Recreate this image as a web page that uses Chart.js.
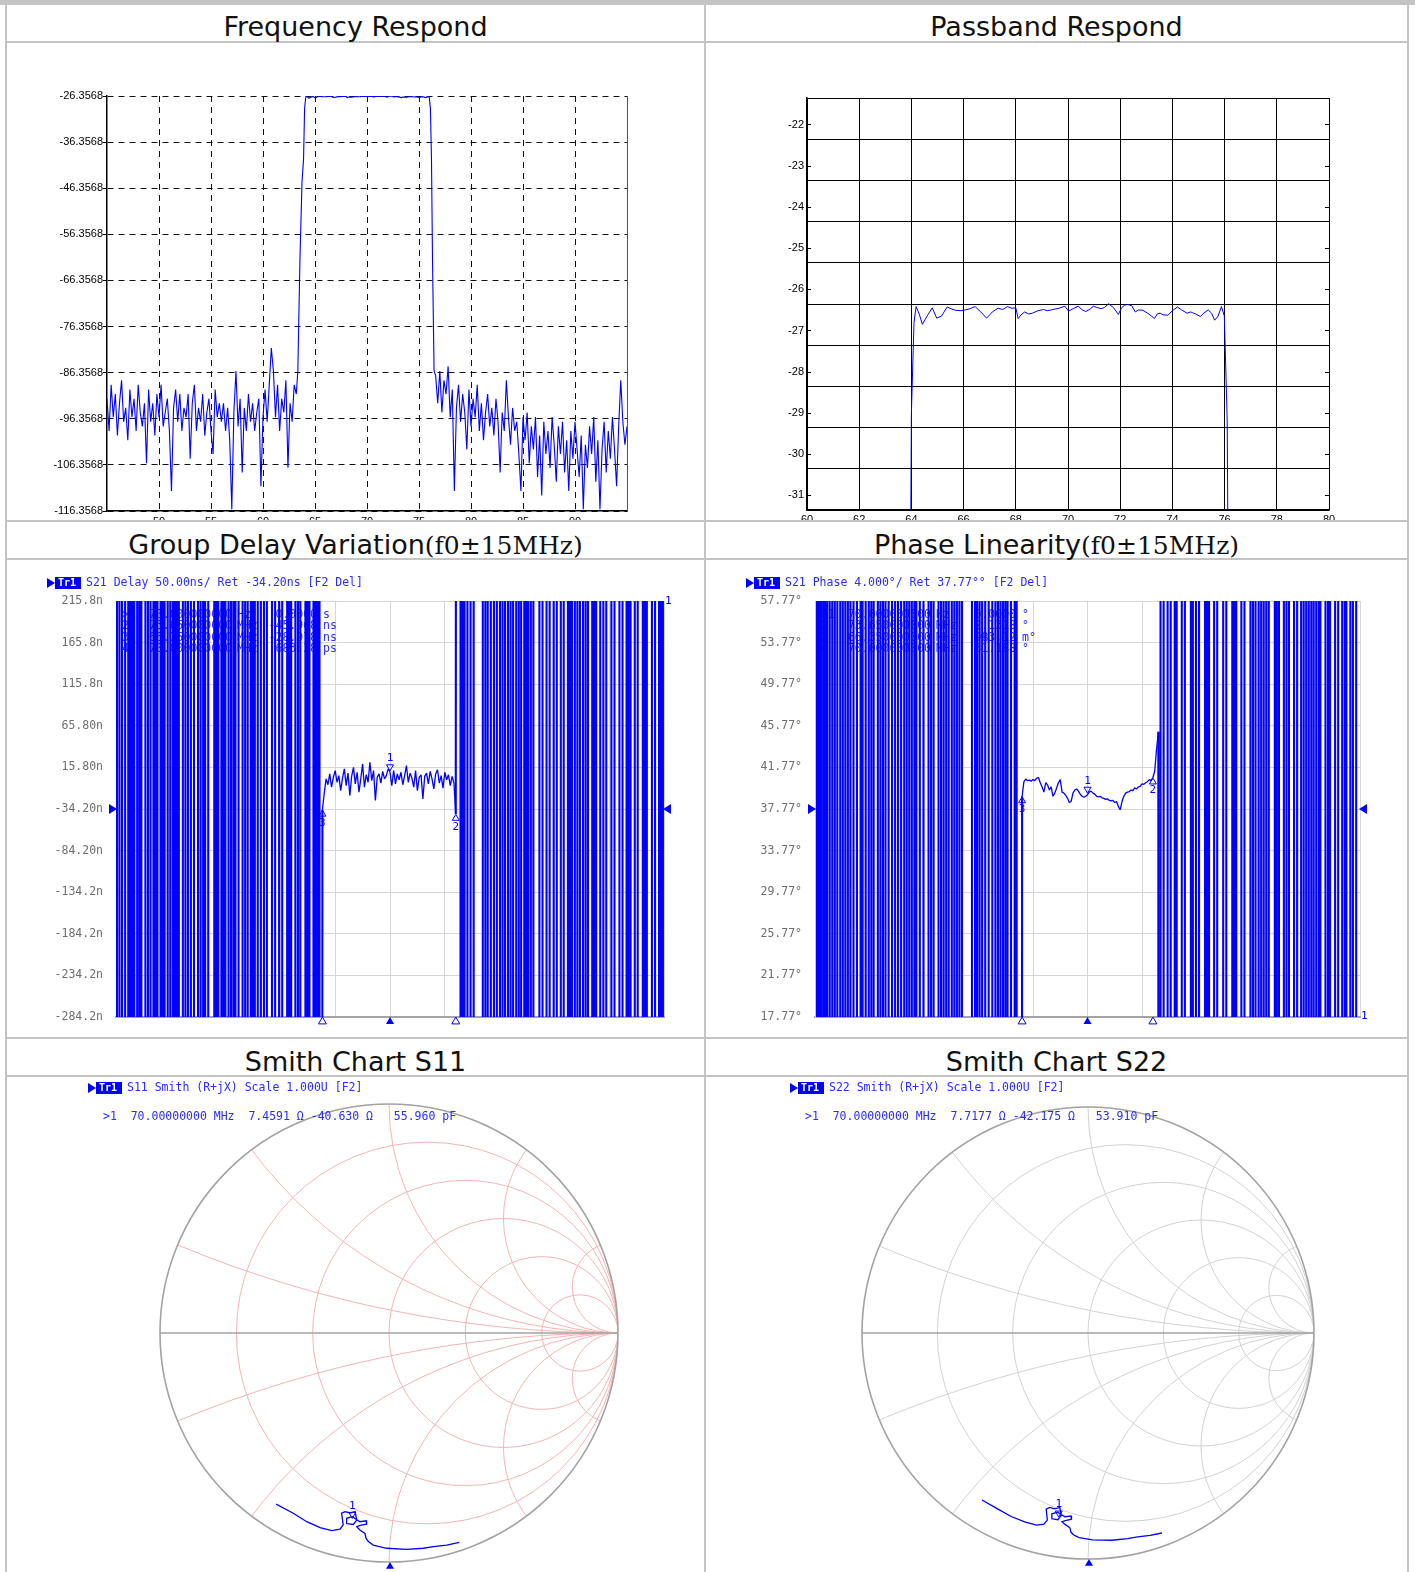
<!DOCTYPE html>
<html>
<head>
<meta charset="utf-8">
<script src="https://cdn.jsdelivr.net/npm/chart.js@4.4.0/dist/chart.umd.min.js"></script>
<style>
body { margin: 0; background: #fff; width: 1415px; height: 1572px; position: relative; overflow: hidden; font-family: "DejaVu Sans", sans-serif; }
.ln { position: absolute; background: #c4c4c4; }
.hd { position: absolute; height: 36px; line-height: 36px; text-align: center; font-size: 27px; color: #111; white-space: nowrap; }
.hd .ser { font-family: "DejaVu Serif", serif; font-size: 25px; }
.pn { position: absolute; overflow: hidden; }
.pn canvas { position: absolute; left: 0; top: 0; }
</style>
</head>
<body>
<div class="ln" style="left:0;top:0;width:1415px;height:5px"></div>
<div class="ln" style="left:5px;top:0;width:2px;height:1572px"></div>
<div class="ln" style="left:704px;top:0;width:2px;height:1572px"></div>
<div class="ln" style="left:1407px;top:0;width:2px;height:1572px"></div>
<div class="ln" style="left:5px;top:41px;width:1404px;height:2px"></div>
<div class="ln" style="left:5px;top:520px;width:1404px;height:2px"></div>
<div class="ln" style="left:5px;top:558px;width:1404px;height:2px"></div>
<div class="ln" style="left:5px;top:1037px;width:1404px;height:2px"></div>
<div class="ln" style="left:5px;top:1075px;width:1404px;height:2px"></div>

<div class="hd" style="left:7px;top:9px;width:697px">Frequency Respond</div>
<div class="hd" style="left:706px;top:9px;width:701px">Passband Respond</div>
<div class="hd" style="left:7px;top:527px;width:697px">Group Delay Variation<span class="ser">(f0±15MHz)</span></div>
<div class="hd" style="left:706px;top:527px;width:701px">Phase Linearity<span class="ser">(f0±15MHz)</span></div>
<div class="hd" style="left:7px;top:1044px;width:697px">Smith Chart S11</div>
<div class="hd" style="left:706px;top:1044px;width:701px">Smith Chart S22</div>

<div class="pn" style="left:7px;top:43px;width:697px;height:477px"><canvas id="freqChart" width="697" height="500"></canvas></div>
<div class="pn" style="left:706px;top:43px;width:701px;height:477px"><canvas id="passChart" width="701" height="500"></canvas></div>
<div class="pn" style="left:7px;top:560px;width:697px;height:477px"><canvas id="gdChart" width="697" height="477"></canvas></div>
<div class="pn" style="left:706px;top:560px;width:701px;height:477px"><canvas id="phChart" width="701" height="477"></canvas></div>
<div class="pn" style="left:7px;top:1077px;width:697px;height:495px"><canvas id="s11Chart" width="697" height="495"></canvas></div>
<div class="pn" style="left:706px;top:1077px;width:701px;height:495px"><canvas id="s22Chart" width="701" height="495"></canvas></div>

<script>
// ---------- data ----------

// frequency respond (MHz / dB)
const fqStep = 0.2;
const fqLeftStart = 45.0;
const fqLeftNoise = [
  -92, -99, -89, -96, -91, -100, -93, -88, -97, -94,
  -101, -90, -96, -92, -99, -89, -95, -98, -93, -106,
  -90, -97, -93, -100, -91, -96, -89, -98, -95, -92,
  -99, -112, -94, -90, -97, -91, -99, -94, -96, -91,
  -105, -93, -89, -99, -94, -97, -91, -100, -95, -92,
  -99, -104, -90, -96, -93, -97, -93, -99, -94, -101,
  -116, -95, -86, -98, -92, -108, -94, -99, -91, -97,
  -93, -99, -95, -92, -111, -96, -90, -97, -89, -81,
  -86, -96, -89, -99, -92, -95, -88, -107, -93, -97,
  -89, -91
];
const fqLowSkirtF = [63.35, 63.55, 63.75];
const fqLowSkirtV = [-86, -62, -45];
const fqHighSkirtF = [76.3, 76.45];
const fqHighSkirtV = [-62, -86];
const fqRightStart = 76.6;
const fqRightNoise = [
  -87, -93, -86, -95, -88, -91, -85, -96, -90, -112,
  -94, -89, -97, -91, -95, -103, -90, -98, -92, -96,
  -89, -99, -93, -101, -95, -91, -98, -94, -100, -92,
  -97, -108, -95, -99, -88, -96, -102, -94, -99, -97,
  -104, -112, -96, -101, -95, -106, -98, -103, -96, -109,
  -100, -113, -97, -104, -99, -107, -96, -102, -110, -98,
  -104, -97, -108, -101, -112, -99, -105, -97, -103, -109,
  -100, -116, -102, -107, -98, -104, -96, -110, -101, -116,
  -103, -97, -108, -99, -105, -96, -103, -111, -98, -88,
  -97, -102, -98
];
const fqTicksX = [50, 55, 60, 65, 70, 75, 80, 85, 90];
const fqTicksY = [-26.3568, -36.3568, -46.3568, -56.3568, -66.3568, -76.3568, -86.3568, -96.3568, -106.3568, -116.3568];

// passband respond (MHz / dB)
const pbFreq = [
  63.9, 64.0, 64.1, 64.18, 64.3, 64.42, 64.6, 64.8, 64.97, 65.15,
  65.37, 65.55, 65.7, 65.9, 66.07, 66.25, 66.44, 66.66, 66.88, 67.1,
  67.32, 67.5, 67.68, 67.85, 68.0, 68.09, 68.2, 68.34, 68.5, 68.63,
  68.85, 69.07, 69.2, 69.36, 69.5, 69.66, 69.88, 70.02, 70.2, 70.39,
  70.55, 70.68, 70.85, 70.97, 71.1, 71.27, 71.4, 71.56, 71.75, 71.93,
  72.05, 72.18, 72.3, 72.44, 72.58, 72.7, 72.87, 73.05, 73.2, 73.31,
  73.42, 73.53, 73.65, 73.83, 74.0, 74.19, 74.35, 74.56, 74.7, 74.78,
  74.9, 75.07, 75.2, 75.37, 75.5, 75.62, 75.75, 75.88, 75.99, 76.1, 76.2
];
const pbVals = [
  -40, -29, -26.8, -26.42, -26.6, -26.85, -26.65, -26.45, -26.70, -26.65,
  -26.43, -26.48, -26.51, -26.52, -26.50, -26.47, -26.42, -26.55, -26.70, -26.55,
  -26.46, -26.49, -26.42, -26.46, -26.45, -26.71, -26.62, -26.55, -26.60, -26.58,
  -26.52, -26.49, -26.52, -26.50, -26.48, -26.46, -26.41, -26.53, -26.47, -26.41,
  -26.50, -26.54, -26.48, -26.41, -26.44, -26.47, -26.44, -26.35, -26.45, -26.61,
  -26.45, -26.38, -26.37, -26.40, -26.55, -26.50, -26.51, -26.58, -26.65, -26.71,
  -26.60, -26.58, -26.62, -26.63, -26.52, -26.43, -26.50, -26.58, -26.55, -26.57,
  -26.60, -26.66, -26.58, -26.50, -26.58, -26.75, -26.65, -26.42, -26.65, -29.2, -40
];
const pbTicksY = [-22, -23, -24, -25, -26, -27, -28, -29, -30, -31];
const pbGridY = [-21.3568, -22.3568, -23.3568, -24.3568, -25.3568, -26.3568, -27.3568, -28.3568, -29.3568, -30.3568, -31.3568];

// group delay (MHz / ns) - frequencies where the trace wraps top to bottom
const gdWrapLeft = [
  55.055, 55.19, 55.33, 55.50, 55.67, 55.78, 55.89, 56.00, 56.16, 56.28, 56.39,
  56.61, 56.75, 56.89, 57.05, 57.16, 57.27, 57.44, 57.55, 57.66, 57.83, 57.97, 58.11,
  58.22, 58.33, 58.44, 58.66, 58.80, 58.94, 59.10, 59.27, 59.49, 59.63, 59.77, 59.88, 60.05,
  60.38, 60.49, 60.60, 60.77, 60.88, 60.99, 61.16, 61.30, 61.43, 61.54, 61.71,
  61.93, 62.07, 62.21, 62.38, 62.49, 62.60, 62.76, 62.93, 63.10, 63.26,
  63.54, 63.71, 63.93, 64.10, 64.37, 64.48, 64.59, 64.82, 64.96, 65.09,
  65.37, 65.48, 65.59, 65.81, 65.92, 66.03, 66.14
];
const gdFlatStart = 66.3;
const gdFlatStep = 0.1;
const gdFlat = [
  -35, -15, 2, -5, 8, -8, 4,
  12, -2, 6, -12, 3, 14, -6, 9, -18, 5,
  16, -4, 10, -14, 2, 20, -8, 7, -2, 22,
  0, 12, -24, 4, 8, -3, 11, 2, 6, 14,
  10, -6, 12, -4, 8, 1, 10, -5, 6, 18,
  -2, 9, 3, -8, 12, -12, 4, 7, -22, 5,
  9, -4, 11, 2, -10, 8, 13, -3, 6, -9,
  10, 1, 7, -6, 5, -3, -40
];
const gdWrapRight = [
  73.86, 73.97, 74.08, 74.24, 74.41, 74.58, 75.08, 75.22, 75.35, 75.52, 75.69, 75.85,
  76.02, 76.16, 76.30, 76.46, 76.60, 76.74, 76.91, 77.05, 77.18,
  77.35, 77.46, 77.57, 77.71, 77.85, 78.18, 78.35, 78.57, 78.74, 78.96, 79.13, 79.35, 79.51,
  79.74, 79.85, 79.96, 80.12, 80.26, 80.40, 80.57, 80.71, 80.84, 81.07, 81.18, 81.29,
  81.51, 81.68, 81.84, 82.12, 82.29, 82.56, 82.73, 82.95, 83.06, 83.17, 83.40, 83.56,
  83.84, 83.95, 84.06, 84.34, 84.51, 84.73, 84.84, 84.94
];
const gdTicks = [215.8, 165.8, 115.8, 65.8, 15.8, -34.2, -84.2, -134.2, -184.2, -234.2, -284.2];
const gdTickLabels = ['215.8n', '165.8n', '115.8n', '65.80n', '15.80n', '-34.20n', '-84.20n', '-134.2n', '-184.2n', '-234.2n', '-284.2n'];
const gdMarkF = [70.0, 73.6, 66.3];
const gdMarkV = [10, -40, -35];

// phase linearity (MHz / deg)
const phWrapLeft = [
  55.11, 55.22, 55.33, 55.45, 55.56, 55.67, 55.81, 55.95, 56.09, 56.23,
  56.39, 56.53, 56.67, 56.81, 56.95, 57.12, 57.31, 57.51, 57.62, 57.79, 57.96, 58.10, 58.23,
  58.46, 58.60, 58.74, 58.88, 59.02, 59.07, 59.24, 59.41, 59.57, 59.74,
  59.91, 60.05, 60.19, 60.33, 60.47, 60.58, 60.77, 60.97, 61.25, 61.39, 61.53,
  61.80, 61.94, 62.08, 62.22, 62.36, 62.53, 62.67, 62.81, 62.95, 63.09,
  63.64, 63.81, 63.92, 64.06, 64.20, 64.37, 64.56, 64.76,
  64.93, 65.07, 65.21, 65.35, 65.48, 65.60, 65.79, 65.99, 66.10
];
const phFlatStart = 66.4;
const phFlatStep = 0.1;
const phFlat = [
  39.0, 40.4, 40.65, 40.5, 40.55, 40.45,
  40.6, 40.5, 40.75, 40.8, 40.3, 39.9, 39.4, 40.3, 40.1, 39.6,
  39.9, 39.0, 39.3, 39.8, 40.3, 40.6, 39.4, 39.3, 39.1, 38.8,
  38.4, 38.5, 39.3, 39.6, 39.7, 39.5, 39.2, 39.0, 38.9, 39.0,
  39.15, 39.4, 39.5, 39.3, 39.2, 39.0, 38.95, 39.0, 38.85, 38.8,
  38.7, 38.75, 38.6, 38.55, 38.6, 38.4, 38.5, 38.0, 37.7, 38.5,
  39.0, 39.3, 39.4, 39.45, 39.6, 39.55, 39.8, 39.7, 39.9, 39.95,
  40.2, 40.15, 40.3, 40.4, 40.6, 40.5, 40.8, 41.4, 43.5, 45.2
];
const phWrapRight = [
  74.02, 74.19, 74.41, 74.58, 74.80, 74.91, 75.19, 75.36, 75.69, 75.80, 75.97, 76.14,
  76.47, 76.58, 76.69, 76.97, 77.14, 77.47, 77.64, 77.97, 78.08, 78.19, 78.47, 78.64,
  78.97, 79.11, 79.25, 79.42, 79.56, 79.70, 79.84, 79.98, 80.31, 80.42, 80.54,
  80.81, 80.95, 81.09, 81.37, 81.54, 81.76, 81.90, 82.04, 82.18, 82.32, 82.45, 82.59, 82.73, 82.82,
  83.10, 83.24, 83.35, 83.63, 83.80, 84.02, 84.16, 84.25, 84.47, 84.61, 84.79
];
const phTicks = [57.77, 53.77, 49.77, 45.77, 41.77, 37.77, 33.77, 29.77, 25.77, 21.77, 17.77];
const phTickLabels = ['57.77°', '53.77°', '49.77°', '45.77°', '41.77°', '37.77°', '33.77°', '29.77°', '25.77°', '21.77°', '17.77°'];
const phMarkF = [70.0, 73.6, 66.4];
const phMarkV = [39.15, 40.8, 39.0];

const anaXDiv = [55, 58, 61, 64, 67, 70, 73, 76, 79, 82, 85];

// smith charts (reflection coefficient re / im)
const s11Re = [-0.493, -0.418, -0.359, -0.301, -0.250, -0.214, -0.200, -0.207, -0.192, -0.170, -0.148, -0.141, -0.156, -0.185, -0.185, -0.160,
  -0.127, -0.100, -0.098, -0.127, -0.141, -0.127, -0.105, -0.100, -0.090, -0.069, -0.010, 0.077, 0.150, 0.194, 0.252, 0.307];
const s11Im = [-0.747, -0.787, -0.824, -0.850, -0.863, -0.857, -0.838, -0.787, -0.780, -0.786, -0.780, -0.817, -0.836, -0.832, -0.809, -0.802,
  -0.824, -0.820, -0.835, -0.840, -0.846, -0.860, -0.875, -0.897, -0.911, -0.926, -0.940, -0.945, -0.940, -0.933, -0.926, -0.914];
const s22Re = [-0.469, -0.400, -0.340, -0.280, -0.228, -0.195, -0.180, -0.185, -0.170, -0.148, -0.125, -0.118, -0.133, -0.160, -0.160, -0.135,
  -0.102, -0.075, -0.073, -0.100, -0.115, -0.100, -0.080, -0.075, -0.063, -0.040, 0.020, 0.105, 0.175, 0.220, 0.275, 0.327];
const s22Im = [-0.739, -0.778, -0.812, -0.836, -0.850, -0.846, -0.828, -0.779, -0.772, -0.778, -0.772, -0.806, -0.826, -0.822, -0.800, -0.793,
  -0.813, -0.810, -0.824, -0.830, -0.835, -0.848, -0.862, -0.882, -0.894, -0.905, -0.915, -0.917, -0.910, -0.902, -0.895, -0.885];
const s11Marker = [7.4591, -40.630];   // ohms at 70 MHz
const s22Marker = [7.7177, -42.175];
const smithRCircles = [0.2, 0.5, 1, 2, 5];
const smithXArcs = [0.2, 0.5, 1, 2, 5];

// ---------- helpers ----------
const BLUE = '#0000ff';
const TXT_BLUE = '#2b2bff';
const MONO = '"DejaVu Sans Mono", monospace';
const WRAP = 1e4;

function setTicks(values) {
  return function (scale) { scale.ticks = values.map(v => ({ value: v })); };
}

// wrapped trace: each wrap is a vertical stroke from top to bottom of the screen
function wrapPoints(freqs, endLow) {
  const pts = [];
  const n = freqs.length;
  freqs.forEach((f, i) => {
    const downward = ((n - 1 - i) % 2 === 0) === endLow;
    pts.push({ x: f, y: downward ? WRAP : -WRAP }, { x: f, y: downward ? -WRAP : WRAP });
  });
  return pts;
}

function tri(ctx, x, y, dir, size, fill) {
  ctx.beginPath();
  if (dir === 'up') { ctx.moveTo(x, y - size); ctx.lineTo(x - size, y + size * 0.7); ctx.lineTo(x + size, y + size * 0.7); }
  else if (dir === 'down') { ctx.moveTo(x, y + size); ctx.lineTo(x - size, y - size * 0.7); ctx.lineTo(x + size, y - size * 0.7); }
  else if (dir === 'right') { ctx.moveTo(x + size, y); ctx.lineTo(x - size * 0.6, y - size); ctx.lineTo(x - size * 0.6, y + size); }
  else { ctx.moveTo(x - size, y); ctx.lineTo(x + size * 0.6, y - size); ctx.lineTo(x + size * 0.6, y + size); }
  ctx.closePath();
  if (fill) ctx.fill(); else ctx.stroke();
}

function trHeader(ctx, x, y, text) {
  ctx.save();
  ctx.fillStyle = BLUE;
  tri(ctx, x + 3, y, 'right', 5, true);
  ctx.fillRect(x + 8, y - 6, 26, 12);
  ctx.fillStyle = '#fff';
  ctx.font = 'bold 10px ' + MONO;
  ctx.textBaseline = 'middle';
  ctx.fillText('Tr1', x + 11, y + 0.5);
  ctx.fillStyle = TXT_BLUE;
  ctx.font = '11.5px ' + MONO;
  ctx.fillText(text, x + 39, y + 0.5);
  ctx.restore();
}

const baseOpts = {
  responsive: false,
  animation: false,
  events: [],
  plugins: { legend: { display: false }, tooltip: { enabled: false } }
};

// ---------- 1: frequency respond ----------
(function () {
  const data = [];
  fqLeftNoise.forEach((v, i) => data.push({ x: fqLeftStart + i * fqStep, y: v }));
  fqLowSkirtF.forEach((f, i) => data.push({ x: f, y: fqLowSkirtV[i] }));
  pbFreq.forEach((f, i) => data.push({ x: f, y: pbVals[i] }));
  fqHighSkirtF.forEach((f, i) => data.push({ x: f, y: fqHighSkirtV[i] }));
  fqRightNoise.forEach((v, i) => data.push({ x: fqRightStart + i * fqStep, y: v }));

  const tickFont = { family: '"Liberation Sans", Arial, sans-serif', size: 11 };
  new Chart(document.getElementById('freqChart'), {
    type: 'line',
    data: { datasets: [{ data: data, borderColor: BLUE, borderWidth: 1.1, pointRadius: 0, tension: 0, borderJoinStyle: 'bevel' }] },
    options: Object.assign({}, baseOpts, {
      layout: { padding: { left: 0, top: 53, right: 77, bottom: 0 } },
      scales: {
        x: {
          type: 'linear', min: 45, max: 95,
          afterBuildTicks: setTicks(fqTicksX),
          afterFit: s => { s.height = 32; },
          grid: { color: '#111', lineWidth: 1, drawTicks: false },
          border: { display: true, color: '#000', width: 1.5, dash: [6, 5] },
          ticks: { color: '#000', font: tickFont, padding: 4, maxRotation: 0 }
        },
        y: {
          min: -116.3568, max: -26.3568,
          afterBuildTicks: setTicks(fqTicksY),
          afterFit: s => { s.width = 100; },
          grid: { color: '#111', lineWidth: 1, drawTicks: true, tickLength: 4, tickColor: '#000' },
          border: { display: true, color: '#000', width: 1.5, dash: [6, 5] },
          ticks: { color: '#000', font: tickFont, padding: 0, callback: v => v.toFixed(4) }
        },
        y2: {
          position: 'right', min: -116.3568, max: -26.3568,
          afterFit: s => { s.width = 0; },
          grid: { display: false },
          border: { display: true, color: '#555', width: 1 },
          ticks: { display: false }
        }
      }
    })
  });
})();

// ---------- 2: passband respond ----------
(function () {
  const data = pbFreq.map((f, i) => ({ x: f, y: pbVals[i] }));
  const tickFont = { family: '"Liberation Sans", Arial, sans-serif', size: 11 };
  const allY = pbGridY.concat(pbTicksY).sort((a, b) => b - a);
  const innerTicks = {
    id: 'innerTicks',
    afterDatasetsDraw(chart) {
      const { ctx, chartArea: a, scales: { y } } = chart;
      ctx.save();
      ctx.strokeStyle = '#000';
      ctx.lineWidth = 1;
      pbTicksY.forEach(v => {
        const py = Math.round(y.getPixelForValue(v)) + 0.5;
        ctx.beginPath();
        ctx.moveTo(a.left, py); ctx.lineTo(a.left + 4, py);
        ctx.moveTo(a.right - 4, py); ctx.lineTo(a.right, py);
        ctx.stroke();
      });
      ctx.restore();
    }
  };
  new Chart(document.getElementById('passChart'), {
    type: 'line',
    data: { datasets: [{ data: data, borderColor: BLUE, borderWidth: 1, pointRadius: 0, tension: 0 }] },
    options: Object.assign({}, baseOpts, {
      layout: { padding: { left: 0, top: 55, right: 78, bottom: 0 } },
      scales: {
        x: {
          type: 'linear', min: 60, max: 80,
          ticks: { stepSize: 2, color: '#000', font: tickFont, padding: 3, maxRotation: 0 },
          afterFit: s => { s.height = 33; },
          grid: { color: '#000', lineWidth: 1, drawTicks: false },
          border: { display: true, color: '#000', width: 1.5 }
        },
        y: {
          min: -31.3568, max: -21.3568,
          afterBuildTicks: setTicks(allY),
          afterFit: s => { s.width = 101; },
          grid: { drawTicks: false, lineWidth: 1, color: c => Number.isInteger(c.tick.value) ? 'rgba(0,0,0,0)' : '#000' },
          border: { display: true, color: '#000', width: 1.5 },
          ticks: { color: '#000', font: tickFont, padding: 3, callback: v => Number.isInteger(v) ? String(v) : '' }
        }
      }
    }),
    plugins: [innerTicks]
  });
})();

// ---------- 3 & 4: analyzer screens ----------
function analyzerChart(id, cfg) {
  const data = wrapPoints(cfg.wrapLeft, true)
    .concat(cfg.flat.map((v, i) => ({ x: cfg.flatStart + i * cfg.flatStep, y: v })))
    .concat(wrapPoints(cfg.wrapRight, cfg.endLow));
  const monoFont = { family: MONO, size: 11.5 };

  const screen = {
    id: 'screen' + id,
    beforeDatasetsDraw(chart) {
      const { ctx, chartArea: a } = chart;
      ctx.save();
      ctx.fillStyle = TXT_BLUE;
      ctx.font = '11.5px ' + MONO;
      ctx.textBaseline = 'middle';
      cfg.table.forEach((row, r) => {
        const yy = a.top + 14 + r * 11.5;
        ctx.textAlign = 'left'; ctx.fillText(row[0], a.left + 6, yy);
        ctx.textAlign = 'right'; ctx.fillText(row[1], a.left + 116, yy);
        ctx.textAlign = 'left'; ctx.fillText(row[2], a.left + 121, yy);
        ctx.textAlign = 'right'; ctx.fillText(row[3], a.left + 201, yy);
        ctx.textAlign = 'left'; ctx.fillText(row[4], a.left + 207, yy);
      });
      ctx.restore();
    },
    afterDraw(chart) {
      const { ctx, chartArea: a, scales: { x, y } } = chart;
      trHeader(ctx, a.left - 69, a.top - 18, cfg.header);
      ctx.save();
      ctx.fillStyle = BLUE; ctx.strokeStyle = BLUE; ctx.lineWidth = 1;
      const ry = y.getPixelForValue(cfg.ref);
      tri(ctx, a.left - 4, ry, 'right', 5, true);
      tri(ctx, a.right + 4, ry, 'left', 5, true);
      cfg.markF.forEach((f, i) => {
        const px = x.getPixelForValue(f);
        tri(ctx, px, a.bottom + 4, 'up', 4, i === 0);
        const py = y.getPixelForValue(cfg.markV[i]);
        ctx.font = '11px ' + MONO;
        ctx.textAlign = 'center';
        ctx.textBaseline = 'middle';
        if (i === 0) {
          tri(ctx, px, py - 5, 'down', 3.5, false);
          ctx.fillText('1', px, py - 14);
        } else {
          tri(ctx, px, py + 4, 'up', 3.5, false);
          ctx.fillText(String(i === 1 ? 2 : 3), px, py + 13);
        }
      });
      ctx.font = '11px ' + MONO;
      ctx.textAlign = 'left';
      ctx.textBaseline = 'middle';
      ctx.fillText('1', a.right + 1, cfg.endLow ? a.bottom - 1 : a.top);
      ctx.restore();
    }
  };

  const isWrap = c => Math.abs(c.p0.parsed.y) >= WRAP || Math.abs(c.p1.parsed.y) >= WRAP;
  new Chart(document.getElementById(id), {
    type: 'line',
    data: {
      datasets: [{
        data: data, borderColor: BLUE, borderWidth: 1.3, pointRadius: 0, tension: 0, borderJoinStyle: 'bevel',
        segment: { borderWidth: c => isWrap(c) ? 2.1 : 1.3 }
      }]
    },
    options: Object.assign({}, baseOpts, {
      layout: { padding: { left: 0, top: 41, right: cfg.padRight, bottom: cfg.padBottom } },
      scales: {
        x: {
          type: 'linear', min: 55, max: 85,
          afterBuildTicks: setTicks(anaXDiv),
          afterFit: s => { s.height = 0; },
          grid: { color: '#d6d6d6', lineWidth: 1, drawTicks: false },
          border: { display: true, color: '#a4a4a4', width: 2 },
          ticks: { display: false }
        },
        y: {
          min: cfg.yTicks[cfg.yTicks.length - 1], max: cfg.yTicks[0],
          afterBuildTicks: setTicks(cfg.yTicks),
          afterFit: s => { s.width = 109; },
          grid: { color: '#d6d6d6', lineWidth: 1, drawTicks: false },
          border: { display: true, color: '#cfcfcf', width: 1 },
          ticks: { color: '#6e6e6e', font: monoFont, padding: 13, callback: (v, i) => cfg.yLabels[i] }
        }
      }
    }),
    plugins: [screen]
  });
}

analyzerChart('gdChart', {
  wrapLeft: gdWrapLeft, wrapRight: gdWrapRight, flat: gdFlat, flatStart: gdFlatStart, flatStep: gdFlatStep,
  endLow: false, yTicks: gdTicks, yLabels: gdTickLabels, ref: -34.2,
  markF: gdMarkF, markV: gdMarkV, padRight: 40, padBottom: 5,
  header: 'S21 Delay 50.00ns/ Ret -34.20ns [F2 Del]',
  table: [['>1', '70.000000000', 'Hz', '0.0000', 's'], ['2', '73.650000000', 'MHz', '-45.968', 'ns'],
          ['3', '66.350000000', 'MHz', '-28.978', 'ns'], ['4', '70.000000000', 'MHz', '683.28', 'ps']]
});

analyzerChart('phChart', {
  wrapLeft: phWrapLeft, wrapRight: phWrapRight, flat: phFlat, flatStart: phFlatStart, flatStep: phFlatStep,
  endLow: true, yTicks: phTicks, yLabels: phTickLabels, ref: 37.77,
  markF: phMarkF, markV: phMarkV, padRight: 47, padBottom: 6,
  header: 'S21 Phase 4.000°/ Ret 37.77°° [F2 Del]',
  table: [['>1', '70.000000000', 'Hz', '0.0000', '°'], ['2', '73.650000000', 'MHz', '2.1318', '°'],
          ['3', '66.350000000', 'MHz', '983.12', 'm°'], ['4', '70.000000000', 'MHz', '31.188', '°']]
});

// ---------- 5 & 6: smith charts ----------
function gammaOf(ohmR, ohmX) {
  const zr = ohmR / 50, zi = ohmX / 50;
  const d = (zr + 1) * (zr + 1) + zi * zi;
  return { x: (zr * zr + zi * zi - 1) / d, y: 2 * zi / d };
}

function smithChart(id, cfg) {
  const data = cfg.re.map((r, i) => ({ x: r, y: cfg.im[i] }));
  const mk = gammaOf(cfg.marker[0], cfg.marker[1]);
  const grid = {
    id: 'smith' + id,
    beforeDatasetsDraw(chart) {
      const { ctx, scales: { x, y } } = chart;
      const cx = x.getPixelForValue(0), cy = y.getPixelForValue(0);
      const R = x.getPixelForValue(1) - cx;
      ctx.save();
      ctx.beginPath(); ctx.arc(cx, cy, R, 0, Math.PI * 2); ctx.clip();
      ctx.strokeStyle = cfg.gridColor; ctx.lineWidth = 1;
      smithRCircles.forEach(r => {
        ctx.beginPath(); ctx.arc(cx + R * r / (1 + r), cy, R / (1 + r), 0, Math.PI * 2); ctx.stroke();
      });
      smithXArcs.forEach(xv => {
        [1, -1].forEach(s => {
          ctx.beginPath(); ctx.arc(cx + R, cy - s * R / xv, R / xv, 0, Math.PI * 2); ctx.stroke();
        });
      });
      ctx.restore();
      ctx.save();
      ctx.strokeStyle = '#a2a2a2'; ctx.lineWidth = 1.6;
      ctx.beginPath(); ctx.arc(cx, cy, R, 0, Math.PI * 2); ctx.stroke();
      ctx.beginPath(); ctx.moveTo(cx - R, cy); ctx.lineTo(cx + R, cy); ctx.stroke();
      ctx.restore();
    },
    afterDraw(chart) {
      const { ctx, chartArea: a, scales: { x, y } } = chart;
      trHeader(ctx, a.left - 72, 11, cfg.header);
      ctx.save();
      ctx.fillStyle = TXT_BLUE; ctx.strokeStyle = BLUE;
      ctx.font = '11.5px ' + MONO;
      ctx.textBaseline = 'middle';
      ctx.fillText(cfg.markerLine, a.left - 57, 40);
      const px = x.getPixelForValue(mk.x), py = y.getPixelForValue(mk.y);
      ctx.lineWidth = 1;
      tri(ctx, px, py - 6, 'down', 3.5, false);
      ctx.textAlign = 'center';
      ctx.font = '11px ' + MONO;
      ctx.fillStyle = BLUE;
      ctx.fillText('1', px, py - 15);
      tri(ctx, x.getPixelForValue(0) + 1, y.getPixelForValue(-1) + 4, 'up', 4, true);
      ctx.restore();
    }
  };
  new Chart(document.getElementById(id), {
    type: 'scatter',
    data: { datasets: [{ data: data, showLine: true, borderColor: BLUE, borderWidth: 1.3, pointRadius: 0, tension: 0 }] },
    options: Object.assign({}, baseOpts, {
      layout: { padding: cfg.pad },
      scales: {
        x: { min: -1, max: 1, display: false },
        y: { min: -1, max: 1, display: false }
      }
    }),
    plugins: [grid]
  });
}

smithChart('s11Chart', {
  re: s11Re, im: s11Im, marker: s11Marker, gridColor: '#f4b4b4',
  pad: { left: 153, top: 27, right: 86, bottom: 10 },
  header: 'S11 Smith (R+jX) Scale 1.000U [F2]',
  markerLine: '>1  70.00000000 MHz  7.4591 Ω -40.630 Ω   55.960 pF'
});
smithChart('s22Chart', {
  re: s22Re, im: s22Im, marker: s22Marker, gridColor: '#d2d2d2',
  pad: { left: 156, top: 30, right: 93, bottom: 13 },
  header: 'S22 Smith (R+jX) Scale 1.000U [F2]',
  markerLine: '>1  70.00000000 MHz  7.7177 Ω -42.175 Ω   53.910 pF'
});
</script>
</body>
</html>
